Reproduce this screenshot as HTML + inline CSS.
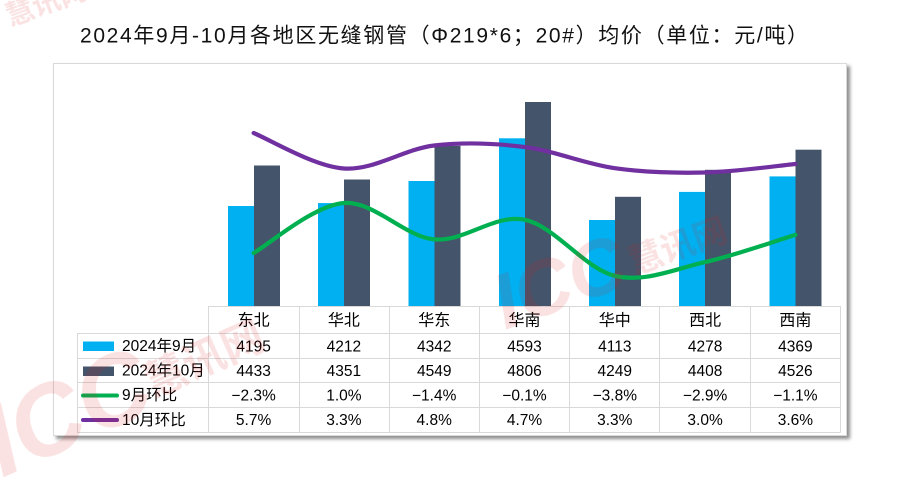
<!DOCTYPE html>
<html><head><meta charset="utf-8"><style>
html,body{margin:0;padding:0;background:#fff;width:900px;height:483px;overflow:hidden;}
svg{display:block;overflow:hidden;}
text{font-family:"Liberation Sans","Noto Sans CJK SC",sans-serif;}
</style></head><body>
<svg width="900" height="483" viewBox="0 0 900 483" xmlns="http://www.w3.org/2000/svg">
<defs>
<filter id="sh" x="-5%" y="-5%" width="110%" height="115%"><feDropShadow dx="3" dy="3" stdDeviation="1.8" flood-color="#000" flood-opacity="0.45"/></filter>
<clipPath id="cp"><rect x="0" y="0" width="900" height="483"/></clipPath>
</defs>
<rect width="900" height="483" fill="#fff"/>
<text x="80" y="42.5" font-size="21" fill="#111" textLength="728" lengthAdjust="spacing">2024年9月-10月各地区无缝钢管（Φ219*6；20#）均价（单位：元/吨）</text>
<rect x="53.5" y="63.5" width="793" height="372" fill="#fff" stroke="#d9d9d9" stroke-width="1" filter="url(#sh)"/>

<!-- bars -->
<g fill="#00B0F0">
<rect x="228" y="206" width="26" height="100"/>
<rect x="318" y="203.1" width="26" height="102.9"/>
<rect x="408.5" y="181" width="26" height="125"/>
<rect x="499" y="138.3" width="26" height="167.7"/>
<rect x="589" y="220" width="26" height="86"/>
<rect x="679" y="191.9" width="26" height="114.1"/>
<rect x="769.5" y="176.4" width="26" height="129.6"/>
</g>
<g fill="#44546A">
<rect x="254" y="165.5" width="26" height="140.5"/>
<rect x="344" y="179.5" width="26" height="126.5"/>
<rect x="434.5" y="145.8" width="26" height="160.2"/>
<rect x="525" y="102" width="26" height="204"/>
<rect x="615" y="196.8" width="26" height="109.2"/>
<rect x="705" y="169.8" width="26" height="136.2"/>
<rect x="795.5" y="149.7" width="26" height="156.3"/>
</g>

<!-- lines -->
<path d="M253.6,253 C268.6,244.67 313.8,205.27 343.9,203 C374,200.73 404.1,236.62 434.2,239.4 C464.3,242.18 494.4,213.63 524.5,219.7 C554.6,225.77 584.7,268.73 614.8,275.8 C644.9,282.87 675,268.92 705.1,262.1 C735.2,255.28 780.35,239.43 795.4,234.9" fill="none" stroke="#00B050" stroke-width="4.2" stroke-linecap="round"/>
<path d="M253.6,133 C268.6,138.92 313.8,166.42 343.9,168.5 C374,170.58 404.1,149.08 434.2,145.5 C464.3,141.92 494.4,143.22 524.5,147 C554.6,150.78 584.7,163.95 614.8,168.2 C644.9,172.45 675,173.2 705.1,172.5 C735.2,171.8 780.35,165.42 795.4,164" fill="none" stroke="#7030A0" stroke-width="4.2" stroke-linecap="round"/>

<!-- table grid -->
<g stroke="#d9d9d9" stroke-width="1" fill="none">
<line x1="208" y1="306.5" x2="840.5" y2="306.5"/>
<line x1="77" y1="333.5" x2="840.5" y2="333.5"/>
<line x1="77" y1="358.5" x2="840.5" y2="358.5"/>
<line x1="77" y1="382.5" x2="840.5" y2="382.5"/>
<line x1="77" y1="407.5" x2="840.5" y2="407.5"/>
<line x1="77" y1="432.5" x2="840.5" y2="432.5"/>
<line x1="77.5" y1="333" x2="77.5" y2="432.5"/>
<line x1="208.5" y1="306" x2="208.5" y2="432.5"/>
<line x1="299.5" y1="306" x2="299.5" y2="432.5"/>
<line x1="389.5" y1="306" x2="389.5" y2="432.5"/>
<line x1="479.5" y1="306" x2="479.5" y2="432.5"/>
<line x1="569.5" y1="306" x2="569.5" y2="432.5"/>
<line x1="659.5" y1="306" x2="659.5" y2="432.5"/>
<line x1="750.5" y1="306" x2="750.5" y2="432.5"/>
<line x1="840.5" y1="306" x2="840.5" y2="432.5"/>
</g>

<!-- legend -->
<rect x="83" y="341.5" width="31" height="9.5" fill="#00B0F0"/>
<rect x="83" y="366.5" width="31" height="9.5" fill="#44546A"/>
<line x1="83" y1="395.5" x2="117" y2="395.5" stroke="#00B050" stroke-width="4" stroke-linecap="round"/>
<line x1="83" y1="420" x2="117" y2="420" stroke="#7030A0" stroke-width="4" stroke-linecap="round"/>
<g font-size="15.5" fill="#000">
<text x="122" y="351">2024年9月</text>
<text x="122" y="375.5">2024年10月</text>
<text x="122" y="400">9月环比</text>
<text x="122" y="425">10月环比</text>
</g>

<!-- header -->
<g font-size="16" fill="#000" text-anchor="middle">
<text x="253.6" y="325.5">东北</text>
<text x="343.9" y="325.5">华北</text>
<text x="434.2" y="325.5">华东</text>
<text x="524.5" y="325.5">华南</text>
<text x="614.8" y="325.5">华中</text>
<text x="705.1" y="325.5">西北</text>
<text x="795.4" y="325.5">西南</text>
</g>
<g font-size="15.5" fill="#000" text-anchor="middle">
<text x="253.6" y="351.5">4195</text>
<text x="343.9" y="351.5">4212</text>
<text x="434.2" y="351.5">4342</text>
<text x="524.5" y="351.5">4593</text>
<text x="614.8" y="351.5">4113</text>
<text x="705.1" y="351.5">4278</text>
<text x="795.4" y="351.5">4369</text>

<text x="253.6" y="376">4433</text>
<text x="343.9" y="376">4351</text>
<text x="434.2" y="376">4549</text>
<text x="524.5" y="376">4806</text>
<text x="614.8" y="376">4249</text>
<text x="705.1" y="376">4408</text>
<text x="795.4" y="376">4526</text>

<text x="253.6" y="400.5">−2.3%</text>
<text x="343.9" y="400.5">1.0%</text>
<text x="434.2" y="400.5">−1.4%</text>
<text x="524.5" y="400.5">−0.1%</text>
<text x="614.8" y="400.5">−3.8%</text>
<text x="705.1" y="400.5">−2.9%</text>
<text x="795.4" y="400.5">−1.1%</text>

<text x="253.6" y="425">5.7%</text>
<text x="343.9" y="425">3.3%</text>
<text x="434.2" y="425">4.8%</text>
<text x="524.5" y="425">4.7%</text>
<text x="614.8" y="425">3.3%</text>
<text x="705.1" y="425">3.0%</text>
<text x="795.4" y="425">3.6%</text>
</g>

<!-- watermarks -->
<g clip-path="url(#cp)" fill="#e02020" opacity="0.13" font-weight="bold" font-style="italic">
<g transform="translate(505,330) rotate(-20)">
<text x="0" y="0" font-size="78">ICC</text>
<text x="140" y="-8" font-size="34" font-style="normal">慧讯网</text>
</g>
<g transform="translate(2,478) rotate(-24)">
<text x="0" y="0" font-size="100">ICC</text>
<text x="170" y="-12" font-size="42" font-style="normal">慧讯网</text>
</g>
<g transform="translate(10,26) rotate(-20)">
<text x="0" y="0" font-size="28" font-style="normal">慧讯网</text>
</g>
</g>
</svg>
</body></html>
